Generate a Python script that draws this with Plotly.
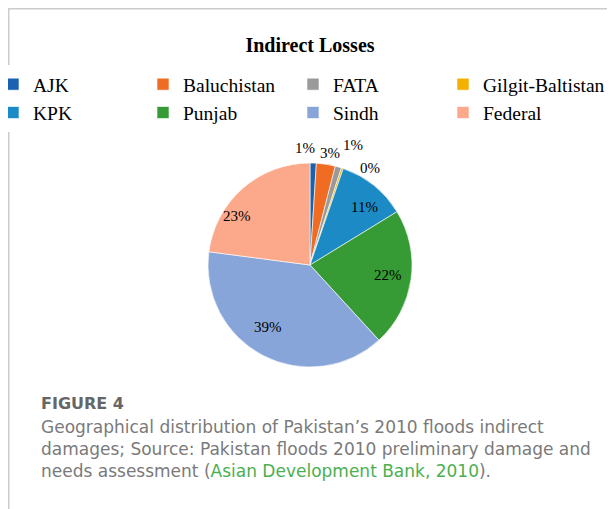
import math
import plotly.graph_objects as go

regions = ['AJK', 'Baluchistan', 'FATA', 'Gilgit-Baltistan', 'KPK', 'Punjab', 'Sindh', 'Federal']
shares = [1, 3, 1, 0.3, 11, 22, 39, 23]
colors = ['#1a62b0', '#f06c22', '#9a9a9a', '#f4b000', '#1c8bc5', '#369b34', '#88a5d9', '#fca98b']

# label placement per slice: (radius factor, angle nudge in degrees)
label_place = [(1.15, -4.2), (1.12, 1.1), (1.25, 3.5), (1.12, 13.2),
               (0.78, 4.7), (0.77, -1.0), (0.73, 6.5), (0.86, -15.0)]

caption_lines = [
    "Geographical distribution of Pakistan’s 2010 floods indirect",
    "damages; Source: Pakistan floods 2010 preliminary damage and",
    "needs assessment (<span style='color:#4caf50'>Asian Development Bank, 2010</span>).",
]

# page is offset by the 8px body margin
OFF = 8
FW, FH = 615 - OFF, 509 - OFF
serif = 'Liberation Serif, Times New Roman, serif'
sans = 'DejaVu Sans, sans-serif'


def px(x):
    return (x - OFF) / FW


def py(y):
    return 1 - (y - OFF) / FH


cx, cy, r = 310 - OFF, 265 - OFF, 102

fig = go.Figure()
fig.add_trace(go.Pie(
    labels=regions, values=shares,
    marker=dict(colors=colors, line=dict(color='white', width=0.6)),
    sort=False, direction='clockwise', rotation=0,
    textinfo='none',
    domain=dict(x=[(cx - r) / FW, (cx + r) / FW], y=[1 - (cy + r) / FH, 1 - (cy - r) / FH]),
    hoverinfo='label+percent',
))

# percentage labels placed from each slice's mid angle
total = sum(shares)
cum = 0
for v, (rf, nudge) in zip(shares, label_place):
    mid = (cum + v / 2) / total * 360 + nudge
    cum += v
    a = math.radians(mid)
    lx = cx + rf * r * math.sin(a)
    ly = cy - rf * r * math.cos(a)
    fig.add_annotation(text=f"{round(v / total * 100)}%", xref='paper', yref='paper',
                       x=lx / FW, y=1 - ly / FH, xanchor='center', yanchor='middle',
                       showarrow=False, font=dict(family=serif, size=15, color='black'))

# card border (top and left edges)
fig.add_shape(type='line', xref='paper', yref='paper', x0=0, x1=1, y0=1, y1=1,
              line=dict(color='#cccccc', width=3))
fig.add_shape(type='line', xref='paper', yref='paper', x0=0, x1=0, y0=0, y1=1,
              line=dict(color='#cccccc', width=3))

fig.add_annotation(text='FIGURE 4', xref='paper', yref='paper', x=px(39), y=py(403),
                   xanchor='left', yanchor='middle', showarrow=False,
                   font=dict(family=sans, size=16, color='#666666', weight=600))
for i, line in enumerate(caption_lines):
    fig.add_annotation(text=line, xref='paper', yref='paper', x=px(39), y=py(427 + 22 * i),
                       xanchor='left', yanchor='middle', showarrow=False, align='left',
                       font=dict(family=sans, size=17, color='#7a7a7a'))

fig.update_layout(
    width=FW, height=FH,
    margin=dict(l=0, r=0, t=0, b=0, autoexpand=False),
    paper_bgcolor='white',
    title=dict(text='<b>Indirect Losses</b>', x=px(310), xanchor='center', y=py(45), yanchor='middle',
               font=dict(family=serif, size=20, color='black')),
    legend=dict(orientation='h', x=0, y=py(65), xanchor='left', yanchor='top',
                indentation=-15, entrywidth=120, font=dict(family=serif, size=19.5, color='black'),
                itemclick=False),
    showlegend=True,
)

fig.write_html("out.html")
